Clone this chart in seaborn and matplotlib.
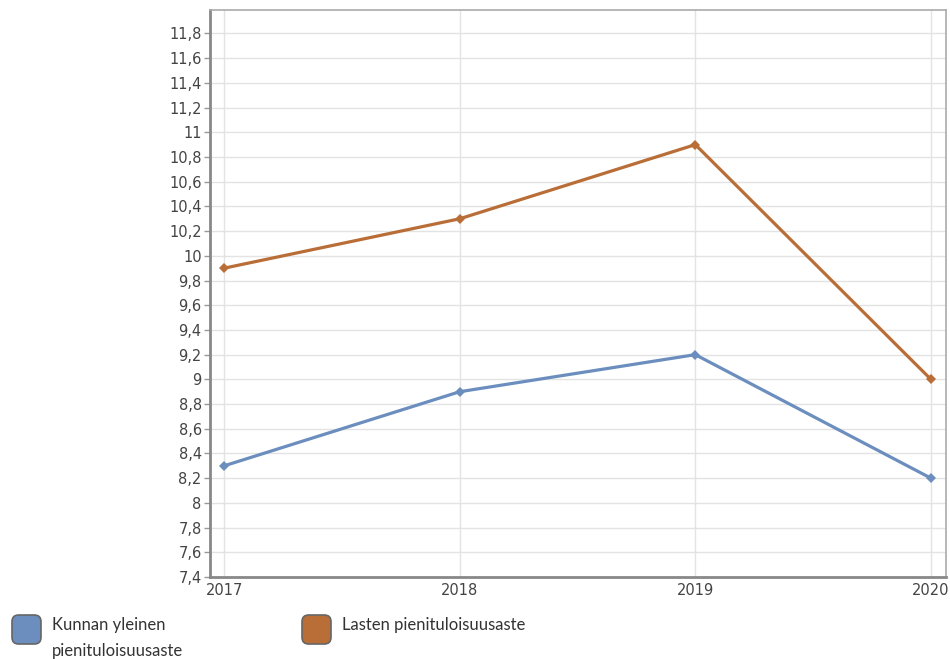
import matplotlib
matplotlib.use("Agg")
import matplotlib.pyplot as plt
import seaborn as sns
import pandas as pd
from matplotlib.patches import FancyBboxPatch
from matplotlib.ticker import FixedLocator, FuncFormatter

years = [2017, 2018, 2019, 2020]
series_names = ["Kunnan yleinen pienituloisuusaste", "Lasten pienituloisuusaste"]
legend_labels = ["Kunnan yleinen\npienituloisuusaste", "Lasten pienituloisuusaste"]
kunnan = [8.3, 8.9, 9.2, 8.2]
lasten = [9.9, 10.3, 10.9, 9.0]
colors = ["#6b8ebf", "#b96d37"]
y_ticks = [7.4 + 0.2 * i for i in range(23)]

df = pd.DataFrame({
    "year": years * 2,
    "value": kunnan + lasten,
    "series": [series_names[0]] * 4 + [series_names[1]] * 4,
})

sns.set_theme(style="white")
plt.rcParams["font.family"] = ["DejaVu Sans"]

fig = plt.figure(figsize=(9.5, 6.59), dpi=100)
ax = fig.add_axes([210 / 950, 1 - 577 / 659, (946 - 210) / 950, (577 - 10) / 659])

sns.lineplot(data=df, x="year", y="value", hue="series", palette=colors,
             marker="D", markersize=5, markeredgewidth=0, linewidth=2.3,
             ax=ax, legend=False)

ax.set_xlim(2016.94, 2020.064)
ax.set_ylim(7.4, 11.99)
ax.xaxis.set_major_locator(FixedLocator(years))
ax.yaxis.set_major_locator(FixedLocator(y_ticks))
ax.xaxis.set_major_formatter(FuncFormatter(lambda v, p: f"{int(round(v))}"))
ax.yaxis.set_major_formatter(FuncFormatter(
    lambda v, p: (f"{v:.1f}".rstrip("0").rstrip(".")).replace(".", ",")))
ax.grid(True, color="#e3e3e3", linewidth=1)
ax.set_axisbelow(True)
ax.set_xlabel("")
ax.set_ylabel("")
ax.tick_params(axis="y", which="major", length=4, width=1, color="#999999",
               labelsize=10.5, labelcolor="#444444", pad=2, left=True)
ax.tick_params(axis="x", which="major", length=0, labelsize=10.5,
               labelcolor="#444444", pad=4)
for side in ["top", "right"]:
    ax.spines[side].set_color("#aaaaaa")
    ax.spines[side].set_linewidth(1.2)
for side in ["left", "bottom"]:
    ax.spines[side].set_color("#888888")
    ax.spines[side].set_linewidth(2)

# legend below the chart
def px(x, y):
    return x / 950, 1 - y / 659

for lx, col, lab in zip([12, 302], colors, legend_labels):
    x0, y0 = px(lx, 644)
    w, h = 29 / 950, 29 / 659
    patch = FancyBboxPatch((x0, y0), w, h, boxstyle="round,pad=0,rounding_size=0.007",
                           transform=fig.transFigure, facecolor=col,
                           edgecolor="#666666", linewidth=1.2, mutation_aspect=950 / 659)
    fig.add_artist(patch)
    tx, tyy = px(lx + 40, 617)
    fig.text(tx, tyy, lab, ha="left", va="top", fontsize=12, color="#333333",
             family=["Lato", "DejaVu Sans"], linespacing=1.75)

fig.savefig("out.png", dpi=100)
